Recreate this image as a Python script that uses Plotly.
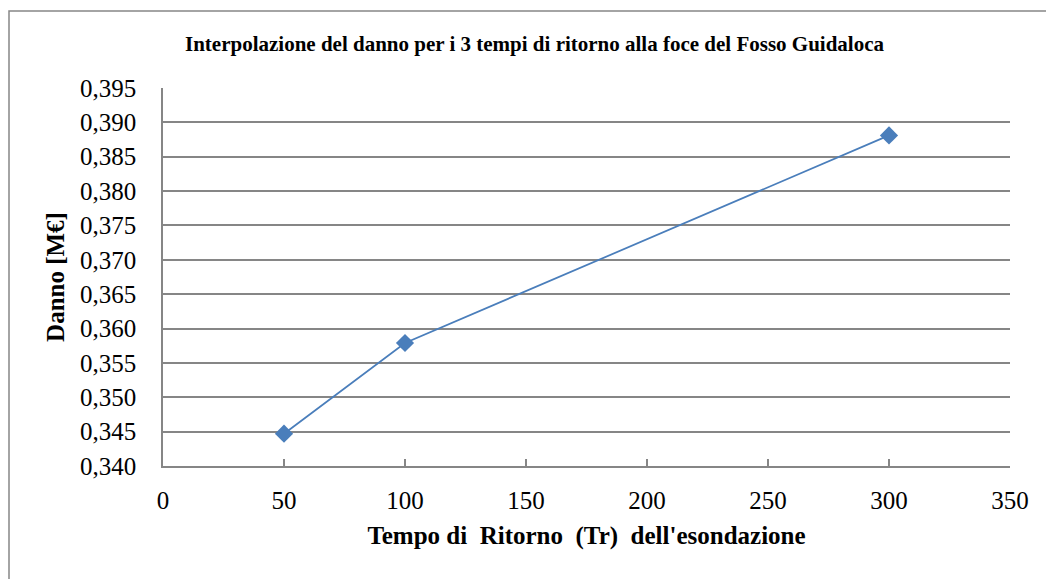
import plotly.graph_objects as go

tempo_ritorno = [50, 100, 300]
danno = [0.3447, 0.3579, 0.3881]

title_text = "Interpolazione del danno per i 3 tempi di ritorno alla foce del Fosso Guidaloca"
x_title = "Tempo di  Ritorno  (Tr)  dell'esondazione"
y_title = "Danno [M€]"

W, H = 1046, 579
L, R, T, B = 163, 36, 88, 113
pw, ph = W - L - R, H - T - B

fig = go.Figure()
fig.add_trace(go.Scatter(
    x=tempo_ritorno, y=danno, mode="lines+markers",
    line=dict(color="#4a7ebb", width=1.75),
    marker=dict(symbol="diamond", size=14, color="#4a7ebb"),
    showlegend=False, hoverinfo="x+y",
))

serif = "Liberation Serif"
grid = "#868686"

fig.update_layout(
    width=W, height=H,
    margin=dict(l=L, r=R, t=T, b=B, autoexpand=False),
    paper_bgcolor="white", plot_bgcolor="white",
    separators=", ",
    font=dict(family=serif, color="black"),
    xaxis=dict(
        range=[0, 350], tickvals=[0, 50, 100, 150, 200, 250, 300, 350],
        showgrid=False, zeroline=False,
        showline=True, linecolor=grid, linewidth=1.5,
        ticks="inside", ticklen=7, tickcolor=grid, tickwidth=1.5,
        tickfont=dict(size=25, family=serif), ticklabelstandoff=11,
        title=dict(text=x_title, font=dict(size=25, family=serif, weight="bold"), standoff=14),
        automargin=False,
    ),
    yaxis=dict(
        range=[0.340, 0.395], tickvals=[0.340, 0.345, 0.350, 0.355, 0.360, 0.365, 0.370,
                                         0.375, 0.380, 0.385, 0.390, 0.395],
        tickformat=".3f",
        showgrid=True, gridcolor=grid, gridwidth=1.5, zeroline=False,
        showline=True, linecolor=grid, linewidth=1.5,
        ticks="", tickfont=dict(size=25, family=serif), ticklabelstandoff=20,
        title=dict(text=y_title, font=dict(size=25, family=serif, weight="bold"), standoff=8),
        automargin=False,
    ),
    annotations=[dict(
        text=title_text, xref="paper", yref="paper",
        x=(535 - L) / pw, y=(H - B - 44) / ph, xanchor="center", yanchor="middle",
        showarrow=False, font=dict(size=21, family=serif, weight="bold"),
    )],
    shapes=[dict(
        type="path", xref="paper", yref="paper",
        path="M {x0},{ylow} L {x0},{y1} L {xhigh},{y1}".format(
            x0=(9 - L) / pw, ylow=-2, y1=(H - B - 11) / ph, xhigh=2),
        line=dict(color=grid, width=1.5),
    )],
)

fig.write_html("out.html")
